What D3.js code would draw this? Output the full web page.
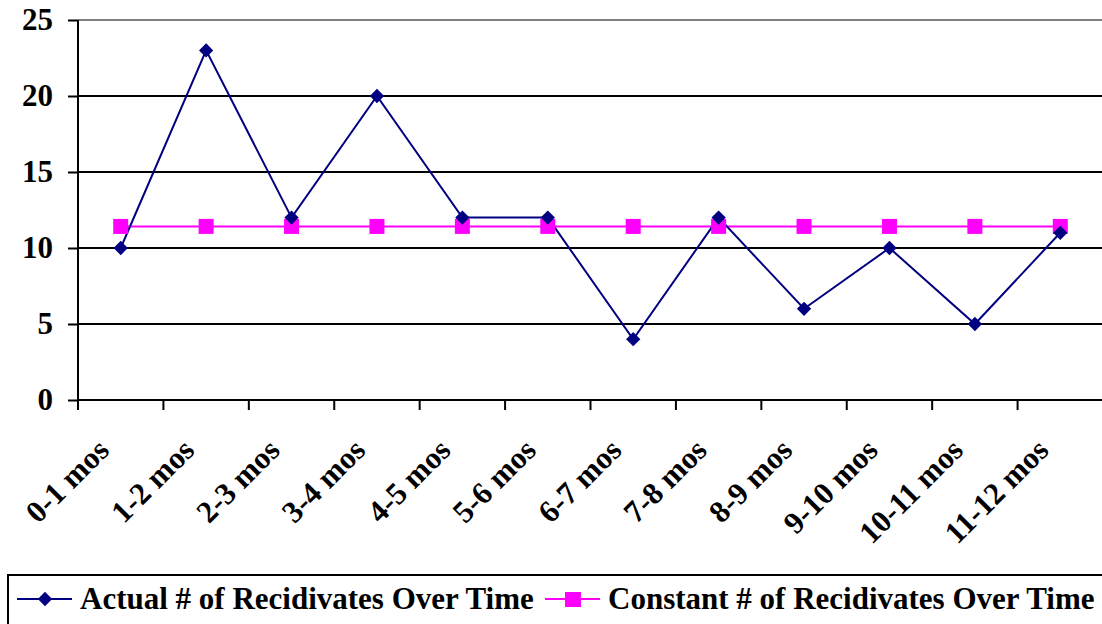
<!DOCTYPE html>
<html><head><meta charset="utf-8">
<script src="https://cdn.jsdelivr.net/npm/d3@7"></script>
<style>body{margin:0;background:#fff}svg{display:block}text{font-family:"Liberation Serif","Times New Roman",serif;font-weight:bold}</style>
</head><body>
<svg id="c" width="1102" height="624"></svg>
<script>
const categories = ["0-1 mos","1-2 mos","2-3 mos","3-4 mos","4-5 mos","5-6 mos","6-7 mos","7-8 mos","8-9 mos","9-10 mos","10-11 mos","11-12 mos"];
const actual = [10,23,12,20,12,12,4,12,6,10,5,11];
const constant = [11.42,11.42,11.42,11.42,11.42,11.42,11.42,11.42,11.42,11.42,11.42,11.42];
const yTicks = [0,5,10,15,20,25];
const seriesNames = ["Actual # of Recidivates Over Time","Constant # of Recidivates Over Time"];

const svg = d3.select("#c");
const L = 78, R = 1103, T = 20, B = 400;
const FS = 31;
const x = d3.scaleBand().domain(categories).range([L, R]);
const y = d3.scaleLinear().domain([0,25]).range([B, T]);

// gridlines
svg.append("g").selectAll("line").data(yTicks.filter(d=>d>0)).join("line")
  .attr("x1", L).attr("x2", R).attr("y1", d=>y(d)).attr("y2", d=>y(d))
  .attr("stroke", d=>d===25?"#808080":"#000").attr("stroke-width", 2);

// y axis
const ya = svg.append("g").attr("transform", `translate(${L},0)`)
  .call(d3.axisLeft(y).tickValues(yTicks).tickSize(10).tickPadding(15));
ya.select(".domain").attr("stroke","#000").attr("stroke-width",2).attr("d", `M0,${T}V${B}`);
ya.selectAll(".tick line").attr("stroke","#000").attr("stroke-width",2);
ya.selectAll(".tick text").attr("font-size", FS).attr("fill","#000")
  .style("font-family",'"Liberation Serif",serif').style("font-weight","bold");

// x axis
const xa = svg.append("g").attr("transform", `translate(0,${B})`)
  .call(d3.axisBottom(x).tickSize(0).tickFormat(""));
xa.select(".domain").attr("stroke","#000").attr("stroke-width",2).attr("d", `M${L},0H${R}`);
const edges = categories.map(c=>x(c));
xa.selectAll(".edge").data(edges).join("line").attr("class","edge")
  .attr("x1", d=>d).attr("x2", d=>d).attr("y1",0).attr("y2",10)
  .attr("stroke","#000").attr("stroke-width",2);
xa.selectAll(".lab").data(categories).join("text").attr("class","lab")
  .attr("transform", d=>`translate(${x(d)+x.bandwidth()/2-10},52) rotate(-45)`)
  .attr("text-anchor","end").attr("font-size", FS).attr("fill","#000").text(d=>d);

const cx = (d,i)=>x(categories[i])+x.bandwidth()/2;
const line = d3.line().x((d,i)=>cx(d,i)).y(d=>y(d));

svg.append("path").datum(constant).attr("d", line).attr("fill","none").attr("stroke","#FF00FF").attr("stroke-width",2);
svg.append("path").datum(actual).attr("d", line).attr("fill","none").attr("stroke","#000080").attr("stroke-width",2);

svg.append("g").selectAll("rect").data(constant).join("rect")
  .attr("x",(d,i)=>cx(d,i)-7.5).attr("y",d=>y(d)-7.5).attr("width",15).attr("height",15).attr("fill","#FF00FF");
svg.append("g").selectAll("path").data(actual).join("path")
  .attr("d", d3.symbol().type(d3.symbolDiamond2).size(130))
  .attr("transform",(d,i)=>`translate(${cx(d,i)},${y(d)})`).attr("fill","#000080");

// legend
const lg = svg.append("g");
lg.append("rect").attr("x",8).attr("y",575).attr("width",1100).attr("height",60)
  .attr("fill","#fff").attr("stroke","#000").attr("stroke-width",2);
lg.append("line").attr("x1",17).attr("x2",72).attr("y1",599).attr("y2",599).attr("stroke","#000080").attr("stroke-width",2);
lg.append("path").attr("d", d3.symbol().type(d3.symbolDiamond2).size(130)).attr("transform","translate(45,599)").attr("fill","#000080");
lg.append("text").attr("x",80).attr("y",609).attr("font-size",FS).text(seriesNames[0]);
lg.append("line").attr("x1",545).attr("x2",600).attr("y1",599).attr("y2",599).attr("stroke","#FF00FF").attr("stroke-width",2);
lg.append("rect").attr("x",565).attr("y",592).attr("width",16).attr("height",15).attr("fill","#FF00FF");
lg.append("text").attr("x",608).attr("y",609).attr("font-size",FS).text(seriesNames[1]);
</script>
</body></html>
